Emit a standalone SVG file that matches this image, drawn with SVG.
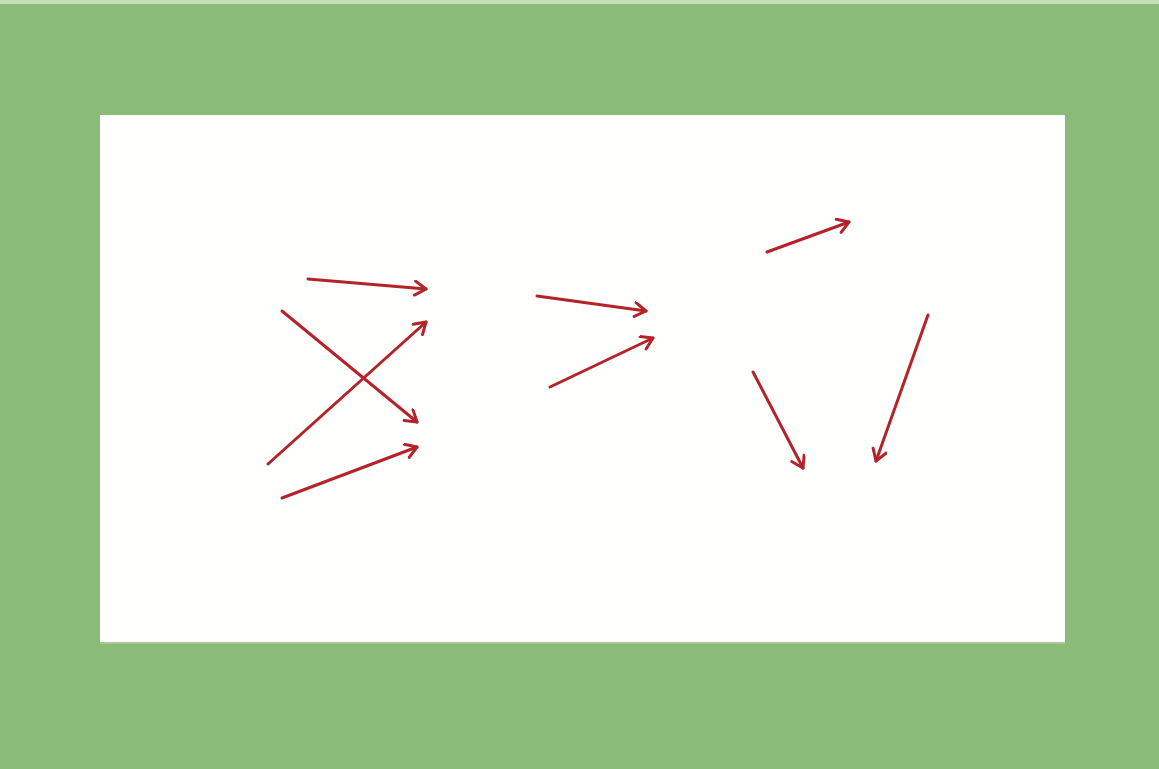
<svg xmlns="http://www.w3.org/2000/svg" width="1159" height="769" viewBox="0 0 1159 769">
  <style>
    .conn { stroke: #B5232A; stroke-width: 3; fill: none; stroke-linecap: round; }
    .head { stroke: #B5232A; stroke-width: 3; fill: none; stroke-linecap: round; stroke-linejoin: round; }
  </style>
  <defs>
    <marker id="arrow" markerUnits="userSpaceOnUse" markerWidth="20" markerHeight="20" refX="14" refY="8" orient="auto">
      <path class="head" d="M3,1 L14,8 L3,15"/>
    </marker>
  </defs>
  <rect id="background" x="0" y="0" width="1159" height="769" fill="#8BBB78"/>
  <rect x="0" y="0" width="1159" height="4" fill="#C6DDBB"/>
  <g id="panel">
    <rect x="100" y="116" width="965" height="528" fill="#A9C79C"/>
    <rect x="100" y="115" width="965" height="527" fill="#FFFFFD"/>
  </g>
  <g id="connectors">
    <line class="conn" x1="308" y1="279" x2="426" y2="289" marker-end="url(#arrow)"/>
    <line class="conn" x1="282" y1="311" x2="417" y2="422" marker-end="url(#arrow)"/>
    <line class="conn" x1="268" y1="464" x2="426" y2="322" marker-end="url(#arrow)"/>
    <line class="conn" x1="282" y1="498" x2="417" y2="447" marker-end="url(#arrow)"/>
    <line class="conn" x1="537" y1="296" x2="646" y2="311" marker-end="url(#arrow)"/>
    <line class="conn" x1="550" y1="387" x2="653" y2="338" marker-end="url(#arrow)"/>
    <line class="conn" x1="767" y1="252" x2="849" y2="222" marker-end="url(#arrow)"/>
    <line class="conn" x1="753" y1="372" x2="803" y2="468" marker-end="url(#arrow)"/>
    <line class="conn" x1="928" y1="315" x2="876" y2="461" marker-end="url(#arrow)"/>
  </g>
</svg>
